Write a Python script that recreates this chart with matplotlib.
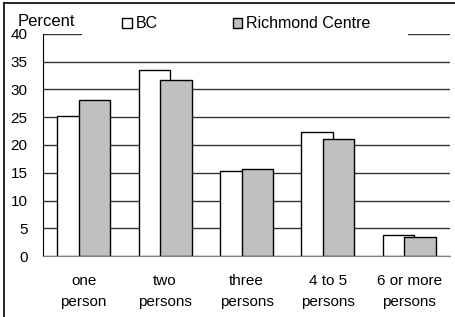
import numpy as np
import matplotlib.pyplot as plt
from matplotlib.lines import Line2D
from matplotlib.patches import Rectangle

plt.rcParams['font.family'] = ['Liberation Sans', 'DejaVu Sans']
plt.rcParams['font.size'] = 11

categories = ['one\nperson', 'two\npersons', 'three\npersons', '4 to 5\npersons', '6 or more\npersons']
bc = [25.3, 33.6, 15.3, 22.3, 3.7]
richmond = [28.1, 31.7, 15.7, 21.1, 3.4]
yticks = [0, 5, 10, 15, 20, 25, 30, 35, 40]

W, H = 456, 317
fig = plt.figure(figsize=(W / 100, H / 100), dpi=100)
ax = fig.add_axes([43 / W, 1 - 256 / H, (450 - 43) / W, (256 - 34) / H])

x = np.arange(len(categories))
w = 0.385
off = 0.133
ax.bar(x - off, bc, w, color='white', edgecolor='black', linewidth=1.0, zorder=3, label='BC')
ax.bar(x + off, richmond, w, color='#c0c0c0', edgecolor='black', linewidth=1.0, zorder=4,
       label='Richmond Centre')

ax.set_xlim(-0.5, len(categories) - 0.5)
ax.set_ylim(0, 40)
ax.set_yticks(yticks)
ax.set_xticks(x)
ax.set_xticklabels(categories, linespacing=1.6)
ax.tick_params(axis='x', length=0, pad=13)
ax.tick_params(axis='y', length=0, pad=11)
ax.yaxis.grid(True, color='#333333', linewidth=1.0, zorder=0)
ax.set_axisbelow(True)
for s in ['top', 'right']:
    ax.spines[s].set_visible(False)
ax.spines['left'].set_color('black')
ax.spines['bottom'].set_color('#808080')

# white box behind legend hides part of the top gridline
ax.add_patch(Rectangle(((82 - 43) / 407, 0.97), (408 - 82) / 407, 0.12,
                       transform=ax.transAxes, facecolor='white', edgecolor='none',
                       clip_on=False, zorder=5))

fig.legend(loc='center left', bbox_to_anchor=(122 / W, 1 - 24 / H), ncol=2, frameon=False,
           fontsize=11.5, handlelength=0.6, handleheight=0.6, handletextpad=0.25,
           columnspacing=4.7, borderpad=0, borderaxespad=0)
fig.text(18 / W, 1 - 21.5 / H, 'Percent', va='center', ha='left', fontsize=12, zorder=6)

# outer frame (top and left)
fig.add_artist(Line2D([4 / W, 1], [1 - 3 / H, 1 - 3 / H], color='black', linewidth=1.2))
fig.add_artist(Line2D([4 / W, 4 / W], [0, 1 - 3 / H], color='black', linewidth=1.2))

fig.savefig('out.png', dpi=100)
